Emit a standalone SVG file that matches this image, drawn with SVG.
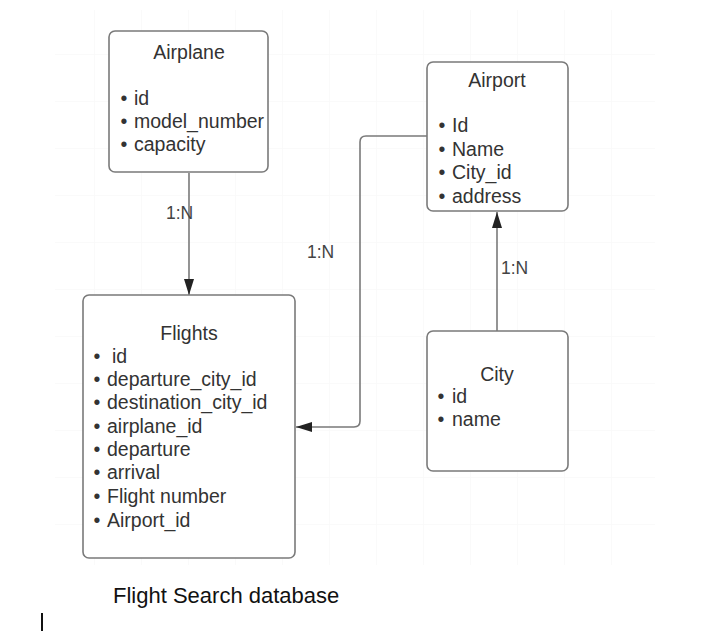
<svg xmlns="http://www.w3.org/2000/svg" width="711" height="631" viewBox="0 0 711 631">
  <defs>
    <pattern id="grid" x="47" y="7" width="47" height="47" patternUnits="userSpaceOnUse">
      <path d="M47 0 H0 V47" fill="none" stroke="#f6f6f6" stroke-width="1"/>
    </pattern>
    <marker id="arrow" viewBox="0 0 16 10" refX="16" refY="5" markerWidth="16" markerHeight="10" markerUnits="userSpaceOnUse" orient="auto">
      <path d="M0 0 L16 5 L0 10 Z" fill="#222"/>
    </marker>
    <style>
      .box { fill: #ffffff; stroke: #7a7a7a; stroke-width: 1.6; }
      .t { font-family: "Liberation Sans", Arial, sans-serif; font-size: 19.5px; fill: #333333; }
      .title { text-anchor: middle; }
      .b { font-family: "Liberation Sans", Arial, sans-serif; font-size: 19.5px; fill: #333333; text-anchor: middle; }
      .lbl { font-family: "Liberation Sans", Arial, sans-serif; font-size: 17.5px; fill: #444444; }
      .edge { fill: none; stroke: #7a7a7a; stroke-width: 1.6; }
      .cap { font-family: "Liberation Sans", Arial, sans-serif; font-size: 22px; fill: #111111; }
    </style>
  </defs>
  <rect width="711" height="631" fill="#ffffff"/>
  <rect x="55" y="10" width="600" height="555" fill="url(#grid)"/>

  <g id="connectors">
    <path class="edge" d="M189 173 V295" marker-end="url(#arrow)"/>
    <path class="edge" d="M427 136 H366 Q360 136 360 142 V421 Q360 427 354 427 H296" marker-end="url(#arrow)"/>
    <path class="edge" d="M497 331 V212" marker-end="url(#arrow)"/>
    <text class="lbl" x="166" y="219">1:N</text>
    <text class="lbl" x="307" y="258">1:N</text>
    <text class="lbl" x="501" y="274">1:N</text>
  </g>

  <g id="airplane">
    <rect class="box" x="109" y="31" width="159" height="141" rx="6"/>
    <text class="t title" x="189" y="59">Airplane</text>
    <text class="b" x="124" y="105">•</text><text class="t" x="134" y="105">id</text>
    <text class="b" x="124" y="128">•</text><text class="t" x="134" y="128">model_number</text>
    <text class="b" x="124" y="151">•</text><text class="t" x="134" y="151">capacity</text>
  </g>

  <g id="airport">
    <rect class="box" x="427" y="62" width="141" height="149" rx="6"/>
    <text class="t title" x="497" y="87">Airport</text>
    <text class="b" x="442" y="132">•</text><text class="t" x="452" y="132">Id</text>
    <text class="b" x="442" y="156">•</text><text class="t" x="452" y="156">Name</text>
    <text class="b" x="442" y="179">•</text><text class="t" x="452" y="179">City_id</text>
    <text class="b" x="442" y="203">•</text><text class="t" x="452" y="203">address</text>
  </g>

  <g id="flights">
    <rect class="box" x="83" y="295" width="212" height="263" rx="6"/>
    <text class="t title" x="189" y="340">Flights</text>
    <text class="b" x="97" y="363">•</text><text class="t" x="112" y="363">id</text>
    <text class="b" x="97" y="386">•</text><text class="t" x="107" y="386">departure_city_id</text>
    <text class="b" x="97" y="409">•</text><text class="t" x="107" y="409">destination_city_id</text>
    <text class="b" x="97" y="433">•</text><text class="t" x="107" y="433">airplane_id</text>
    <text class="b" x="97" y="456">•</text><text class="t" x="107" y="456">departure</text>
    <text class="b" x="97" y="479">•</text><text class="t" x="107" y="479">arrival</text>
    <text class="b" x="97" y="503">•</text><text class="t" x="107" y="503">Flight number</text>
    <text class="b" x="97" y="527">•</text><text class="t" x="107" y="527">Airport_id</text>
  </g>

  <g id="city">
    <rect class="box" x="427" y="331" width="141" height="140" rx="6"/>
    <text class="t title" x="497" y="381">City</text>
    <text class="b" x="441" y="403">•</text><text class="t" x="452" y="403">id</text>
    <text class="b" x="441" y="426">•</text><text class="t" x="452" y="426">name</text>
  </g>

  <g id="caption">
    <text class="cap" x="113" y="603">Flight Search database</text>
    <rect x="41" y="613" width="2" height="18" fill="#111111"/>
  </g>
</svg>
